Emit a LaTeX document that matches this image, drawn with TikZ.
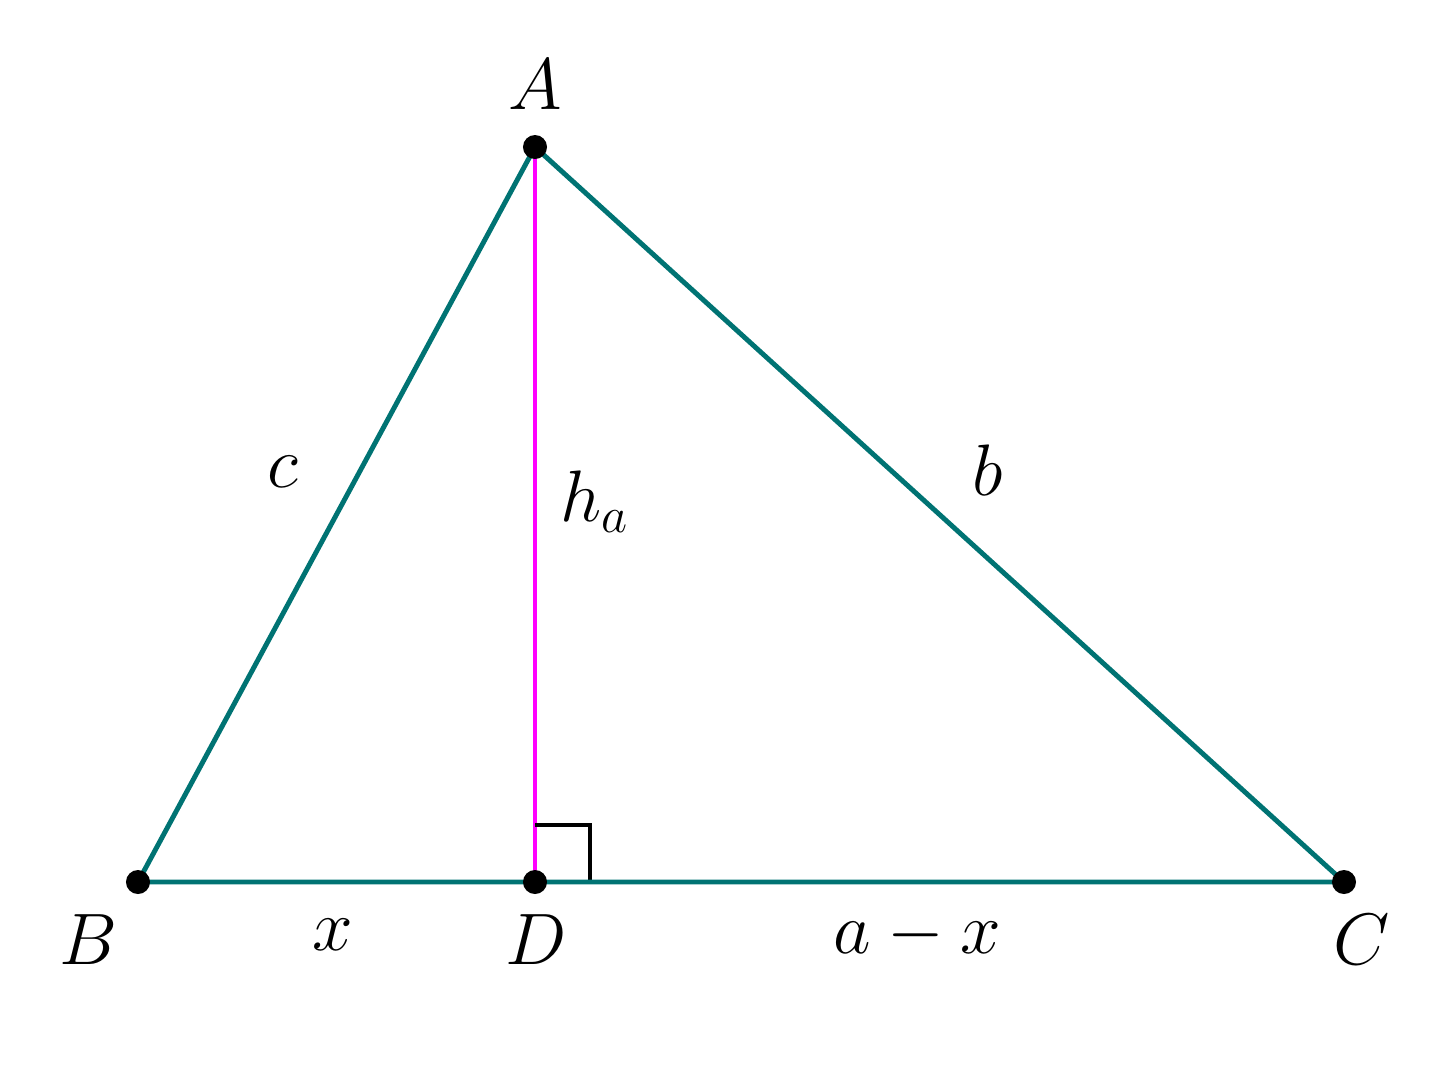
\documentclass[tikz,border=0pt]{standalone}
\definecolor{sidecol}{RGB}{0,115,115}
\definecolor{altcol}{RGB}{255,0,255}
\begin{document}
\begin{tikzpicture}[x=0.01cm,y=-0.01cm,
  side/.style={draw=sidecol,line width=1.4pt},
  alt/.style={draw=altcol,line width=1.4pt},
  vdot/.style={circle,fill=black,inner sep=0pt,minimum size=0.24cm},
  lbl/.style={font=\fontsize{20.5}{24}\selectfont,inner sep=0pt}]
\useasboundingbox (0,0) rectangle (1447,1087);
\coordinate (A) at (535,147);
\coordinate (B) at (138,882);
\coordinate (D) at (535,882);
\coordinate (C) at (1344,882);
\coordinate (R1) at (535,825);
\coordinate (R2) at (590,825);
\coordinate (R3) at (590,882);
\draw[alt] (A) -- (D);
\draw[black,line width=1.3pt] (R1) -- (R2) -- (R3);
\draw[side,line join=round] (A) -- (B) -- (C) -- cycle;
\node[vdot] (pA) at (A) {};
\node[vdot] (pB) at (B) {};
\node[vdot] (pD) at (D) {};
\node[vdot] (pC) at (C) {};
\node[lbl] (lA) at (535,85) {$A$};
\node[lbl] (lB) at (88,940) {$B$};
\node[lbl] (lD) at (536,940) {$D$};
\node[lbl] (lC) at (1362,940) {$C$};
\node[lbl] (lc) at (283,472) {$c$};
\node[lbl] (lb) at (988,470) {$b$};
\node[lbl] (lh) at (595,502) {$h_a$};
\node[lbl] (lx) at (333,935) {$x$};
\node[lbl] (lax) at (917,935) {$a-x$};
\end{tikzpicture}
\end{document}
